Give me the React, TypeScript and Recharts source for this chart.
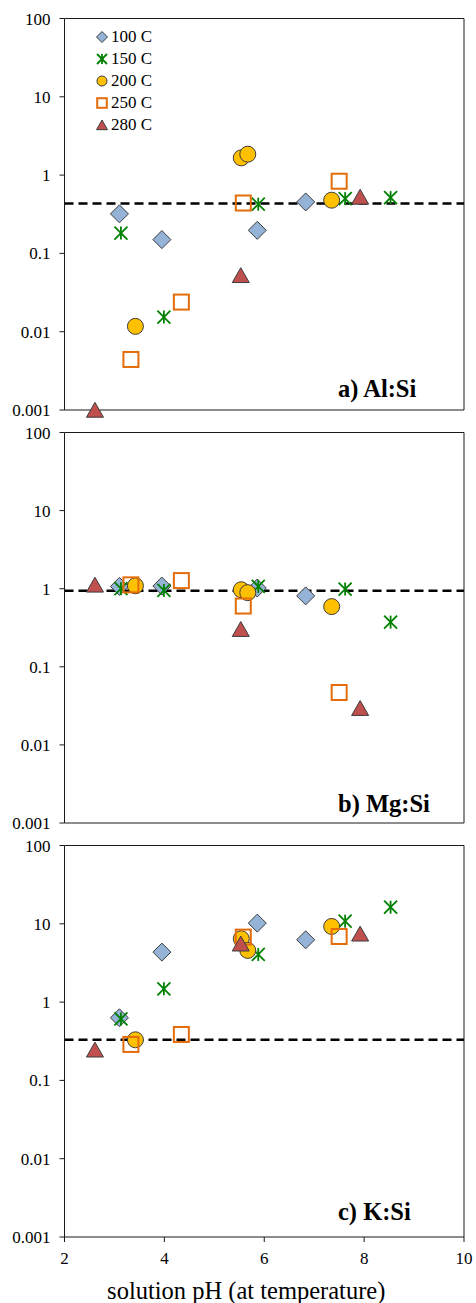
import React from "react";
import { ScatterChart, Scatter, XAxis, YAxis, ReferenceLine, Legend } from "recharts";

const TEMPS = ["100 C", "150 C", "200 C", "250 C", "280 C"];
const PH_TICKS = [2, 4, 6, 8, 10];
const RATIO_TICKS = [0.001, 0.01, 0.1, 1, 10, 100];

// solution pH (at temperature) of each run, per temperature
const ph100 = [3.1, 3.95, 5.86, 6.83];
const ph150 = [3.13, 3.99, 5.88, 7.62, 8.53];
const ph200 = [3.42, 5.54, 5.67, 7.35];
const ph250 = [3.33, 4.34, 5.58, 7.5];
const ph280 = [2.61, 5.53, 7.92];

// a) Al:Si
const alSi100 = [0.32, 0.15, 0.197, 0.454];
const alSi150 = [0.182, 0.0154, 0.425, 0.5, 0.516];
const alSi200 = [0.0117, 1.66, 1.85, 0.478];
const alSi250 = [0.00442, 0.0239, 0.44, 0.835];
const alSi280 = [0.001, 0.0525, 0.526];

// b) Mg:Si
const mgSi100 = [1.07, 1.08, 1.02, 0.81];
const mgSi150 = [1.0, 0.95, 1.07, 0.99, 0.373];
const mgSi200 = [1.09, 0.97, 0.89, 0.59];
const mgSi250 = [1.12, 1.27, 0.6, 0.0469];
const mgSi280 = [1.12, 0.303, 0.0295];

// c) K:Si
const kSi100 = [0.63, 4.35, 10.2, 6.25];
const kSi150 = [0.61, 1.48, 4.06, 10.8, 16.3];
const kSi200 = [0.33, 6.44, 4.57, 9.25];
const kSi250 = [0.288, 0.386, 6.76, 6.89];
const kSi280 = [0.246, 5.56, 7.45];

// dashed reference (rock) ratios
const REF_RATIOS = [0.433, 0.94, 0.33];
const PANEL_LABELS = ["a) Al:Si", "b) Mg:Si", "c) K:Si"];

const PH = [ph100, ph150, ph200, ph250, ph280];
const PANEL_VALUES = [
  [alSi100, alSi150, alSi200, alSi250, alSi280],
  [mgSi100, mgSi150, mgSi200, mgSi250, mgSi280],
  [kSi100, kSi150, kSi200, kSi250, kSi280],
];

const FONT = '"Liberation Serif", "Times New Roman", serif';
const AXIS = "#1a1a1a";

// marker drawers, s = half size
const diamond = (cx: number, cy: number, s: number) => (
  <path d={`M${cx},${cy - s}L${cx + s},${cy}L${cx},${cy + s}L${cx - s},${cy}Z`} fill="#95B3D7" stroke="#3c3c3c" strokeWidth={1} />
);
const star = (cx: number, cy: number, s: number) => (
  <g stroke="#008000" strokeWidth={1.8}>
    <line x1={cx - s} y1={cy - s} x2={cx + s} y2={cy + s} />
    <line x1={cx - s} y1={cy + s} x2={cx + s} y2={cy - s} />
    <line x1={cx} y1={cy - s} x2={cx} y2={cy + s} />
  </g>
);
const circle = (cx: number, cy: number, s: number) => (
  <circle cx={cx} cy={cy} r={s} fill="#FFC000" stroke="#3c3c3c" strokeWidth={1} />
);
const square = (cx: number, cy: number, s: number) => (
  <rect x={cx - s} y={cy - s} width={2 * s} height={2 * s} fill="none" stroke="#E46C0A" strokeWidth={2} />
);
const triangle = (cx: number, cy: number, s: number) => (
  <path d={`M${cx},${cy - s * 0.9}L${cx + s},${cy + s * 0.85}L${cx - s},${cy + s * 0.85}Z`} fill="#C0504D" stroke="#3c3c3c" strokeWidth={1} />
);

const MARKERS = [
  { draw: diamond, size: 9, legend: 5.5 },
  { draw: star, size: 6.5, legend: 5 },
  { draw: circle, size: 8, legend: 5 },
  { draw: square, size: 7.5, legend: 4.8 },
  { draw: triangle, size: 8.5, legend: 5.5 },
];

const LegendBox = () => (
  <div style={{ fontFamily: FONT, fontSize: 17, color: "#000", lineHeight: "22px" }}>
    {TEMPS.map((t, i) => (
      <div key={t} style={{ display: "flex", alignItems: "center", height: 22 }}>
        <svg width={14} height={14} style={{ marginRight: 2 }}>
          {MARKERS[i].draw(7, 7, MARKERS[i].legend)}
        </svg>
        <span>{t}</span>
      </div>
    ))}
  </div>
);

function Panel({ index, top, height, xHeight, bottom }: { index: number; top: number; height: number; xHeight: number; bottom: boolean }) {
  const values = PANEL_VALUES[index];
  const tickStyle = { fill: "#000", fontSize: 17, fontFamily: FONT };
  return (
    <div style={{ position: "absolute", left: 0, top }}>
      <ScatterChart width={476} height={height} margin={{ top: 18.5, right: 12, bottom: 0, left: 0 }}>
        <XAxis
          dataKey="x"
          type="number"
          domain={[2, 10]}
          ticks={PH_TICKS}
          height={xHeight}
          stroke={AXIS}
          tickSize={5}
          tickMargin={9.5}
          tick={bottom ? tickStyle : false}
          label={
            bottom
              ? { value: "solution pH (at temperature)", position: "insideBottom", offset: 5, dx: -18, fill: "#000", fontSize: 24.5, fontFamily: FONT }
              : undefined
          }
        />
        <YAxis
          dataKey="y"
          type="number"
          scale="log"
          domain={[0.001, 100]}
          ticks={RATIO_TICKS}
          width={64.5}
          stroke={AXIS}
          tickSize={5}
          tickMargin={9}
          tick={tickStyle}
          tickFormatter={(v: number) => String(v)}
        />
        <ReferenceLine y={100} stroke={AXIS} />
        <ReferenceLine x={10} stroke={AXIS} />
        <ReferenceLine y={REF_RATIOS[index]} stroke="#000" strokeWidth={2.5} strokeDasharray="9 5" />
        {index === 0 && (
          <Legend
            layout="vertical"
            align="center"
            verticalAlign="middle"
            content={() => <LegendBox />}
            wrapperStyle={{ top: 26, left: 95, width: 80 }}
          />
        )}
        {TEMPS.map((t, i) => (
          <Scatter
            key={t}
            name={t}
            data={PH[i].map((x, j) => ({ x, y: values[i][j] }))}
            isAnimationActive={false}
            shape={(p: any) => MARKERS[i].draw(p.cx, p.cy, MARKERS[i].size)}
          />
        ))}
      </ScatterChart>
    </div>
  );
}

const LABEL_BASELINES = [397, 811.5, 1220];

export default function App() {
  return (
    <div style={{ position: "absolute", left: 0, top: 0, width: 476, height: 1303, background: "#fff" }}>
      <Panel index={0} top={0} height={420} xHeight={10} bottom={false} />
      <Panel index={1} top={414.2} height={420} xHeight={11} bottom={false} />
      <Panel index={2} top={826.5} height={476.5} xHeight={66.5} bottom={true} />
      <svg width={476} height={1303} style={{ position: "absolute", left: 0, top: 0, pointerEvents: "none" }}>
        {PANEL_LABELS.map((l, i) => (
          <text key={l} x={338} y={LABEL_BASELINES[i]} fontFamily={FONT} fontWeight="bold" fontSize={24.5} fill="#000">
            {l}
          </text>
        ))}
      </svg>
    </div>
  );
}
